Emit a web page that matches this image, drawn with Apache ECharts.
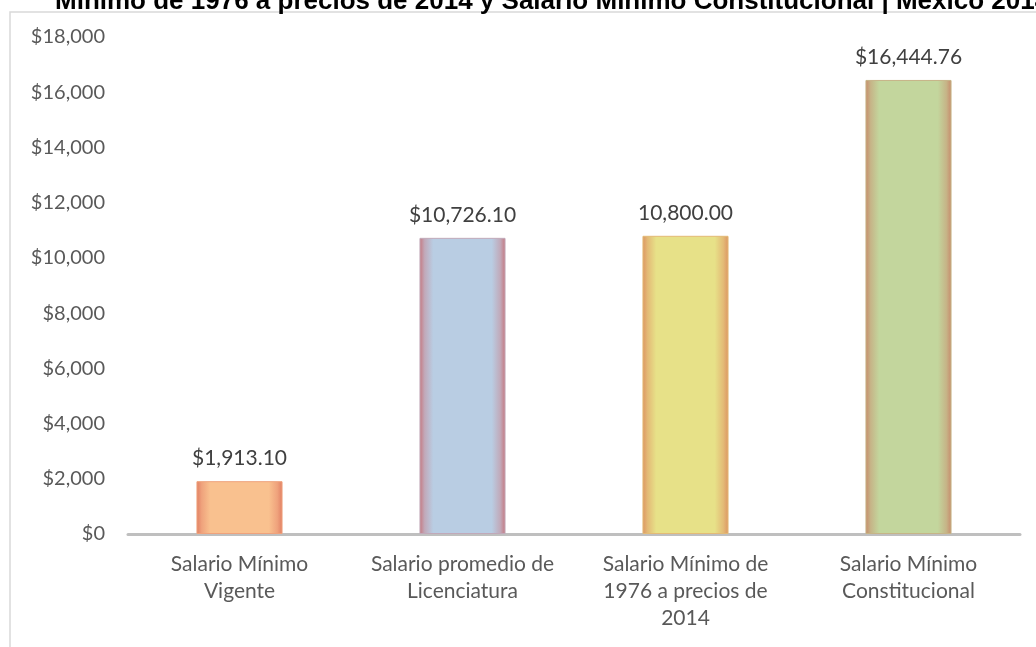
<!DOCTYPE html>
<html>
<head>
<meta charset="utf-8">
<script src="https://cdn.jsdelivr.net/npm/echarts@6/dist/echarts.min.js"></script>
<style>
  html, body { margin: 0; padding: 0; background: #fff; }
  #chart { width: 1036px; height: 647px; }
</style>
</head>
<body>
<div id="chart"></div>
<script>
  // datos del gráfico
  var categorias = [
    'Salario Mínimo\nVigente',
    'Salario promedio de\nLicenciatura',
    'Salario Mínimo de\n1976 a precios de\n2014',
    'Salario Mínimo\nConstitucional'
  ];
  var valores = [1913.10, 10726.10, 10800.00, 16444.76];
  var conSigno = [true, true, false, true];   // la etiqueta 3 no lleva "$"
  var ticksY = [0, 2000, 4000, 6000, 8000, 10000, 12000, 14000, 16000, 18000];
  var titulo = 'Mínimo de 1976 a precios de 2014 y Salario Mínimo Constitucional | México 2014';

  // colores: [centro, medio, borde]
  var colores = [
    ['#F9C18F', '#EFA27C', '#E07E63'],
    ['#B9CDE3', '#C1A9B9', '#C6767E'],
    ['#E7E188', '#E3BA76', '#DC9462'],
    ['#C3D69D', '#C6B487', '#C78A6B']
  ];

  function dinero(v) {
    return v.toLocaleString('en-US', { minimumFractionDigits: 2, maximumFractionDigits: 2 });
  }

  var chart = echarts.init(document.getElementById('chart'));

  var datos = valores.map(function (v, i) {
    var c = colores[i];
    return {
      value: v,
      itemStyle: {
        color: new echarts.graphic.LinearGradient(0, 0, 1, 0, [
          { offset: 0, color: c[2] },
          { offset: 0.06, color: c[1] },
          { offset: 0.16, color: c[0] },
          { offset: 0.84, color: c[0] },
          { offset: 0.94, color: c[1] },
          { offset: 1, color: c[2] }
        ]),
        borderColor: c[1],
        borderWidth: 1
      }
    };
  });

  chart.setOption({
    animation: false,
    title: {
      text: titulo,
      left: 50,
      top: -16,
      textStyle: {
        fontFamily: 'Liberation Sans',
        fontWeight: 'bold',
        fontSize: 26,
        color: '#000'
      }
    },
    graphic: [{
      type: 'rect',
      shape: { x: 10, y: 12, width: 1200, height: 800 },
      style: { fill: 'none', stroke: '#D9D9D9', lineWidth: 1.5 },
      z: -1
    }],
    grid: { left: 128, right: 16, top: 37, bottom: 113 },
    xAxis: {
      type: 'category',
      data: categorias,
      axisLine: { lineStyle: { color: '#BFBFBF', width: 3 } },
      axisTick: { show: false },
      axisLabel: {
        margin: 17,
        interval: 0,
        fontFamily: 'Lato',
        fontSize: 21,
        lineHeight: 27,
        color: '#595959',
        align: 'center'
      }
    },
    yAxis: {
      type: 'value',
      min: ticksY[0],
      max: ticksY[ticksY.length - 1],
      interval: 2000,
      axisLine: { show: false },
      axisTick: { show: false },
      splitLine: { show: false },
      axisLabel: {
        margin: 23,
        fontFamily: 'Lato',
        fontSize: 20,
        color: '#595959',
        formatter: function (v) { return '$' + v.toLocaleString('en-US'); }
      }
    },
    series: [{
      type: 'bar',
      data: datos,
      barWidth: '38.6%',
      label: {
        show: true,
        position: 'top',
        distance: 12,
        fontFamily: 'Lato',
        fontSize: 21,
        color: '#404040',
        formatter: function (p) {
          return (conSigno[p.dataIndex] ? '$' : '') + dinero(p.value);
        }
      }
    }]
  });
</script>
</body>
</html>
